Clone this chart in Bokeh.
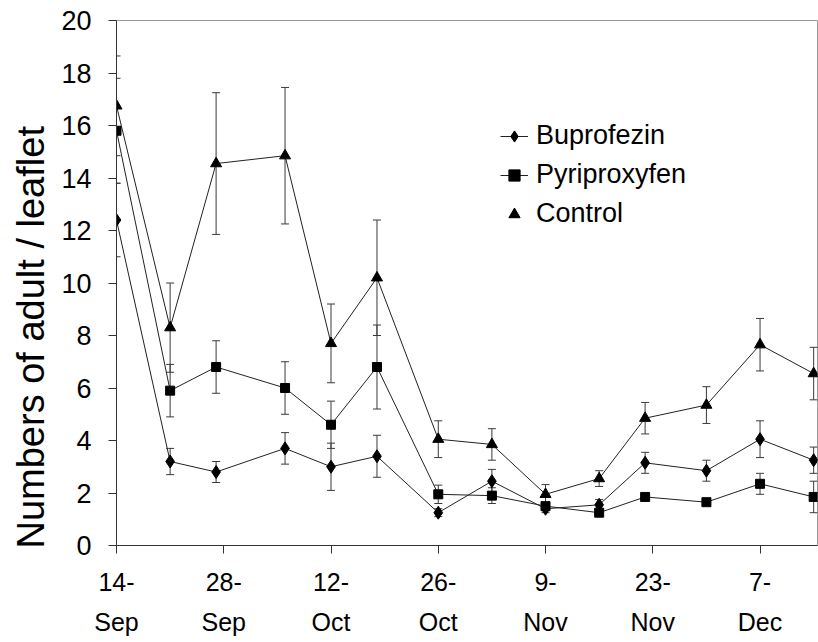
import numpy as np
import pandas as pd
from bokeh.plotting import figure
from bokeh.models import (ColumnDataSource, Whisker, TeeHead, Range1d, FixedTicker,
                          Legend, LegendItem, Title)
from bokeh.embed import file_html
from bokeh.resources import INLINE

# ---- data ----
dates = ["14-Sep", "21-Sep", "27-Sep", "6-Oct", "12-Oct", "18-Oct", "26-Oct",
         "2-Nov", "9-Nov", "16-Nov", "22-Nov", "30-Nov", "7-Dec", "14-Dec"]
buprofezin = [12.4, 3.2, 2.8, 3.7, 3.0, 3.4, 1.25, 2.45, 1.4, 1.55, 3.15, 2.85, 4.05, 3.25]
buprofezin_err = [1.4, 0.5, 0.4, 0.6, 0.9, 0.8, 0.15, 0.45, 0.15, 0.2, 0.4, 0.4, 0.7, 0.5]
pyriproxyfen = [15.8, 5.9, 6.8, 6.0, 4.6, 6.8, 1.95, 1.9, 1.5, 1.25, 1.85, 1.65, 2.35, 1.85]
pyriproxyfen_err = [2.0, 1.0, 1.0, 1.0, 0.9, 1.6, 0.35, 0.3, 0.15, 0.12, 0.12, 0.1, 0.4, 0.6]
control = [16.75, 8.3, 14.55, 14.85, 7.7, 10.2, 4.05, 3.85, 1.95, 2.55, 4.85, 5.35, 7.65, 6.55]
control_err = [1.9, 1.7, 2.7, 2.6, 1.5, 2.2, 0.7, 0.6, 0.37, 0.3, 0.6, 0.7, 1.0, 1.0]
tick_dates = ["14-Sep", "28-Sep", "12-Oct", "26-Oct", "9-Nov", "23-Nov", "7-Dec"]
y_ticks = [0, 2, 4, 6, 8, 10, 12, 14, 16, 18, 20]
y_title = "Numbers of adult / leaflet"

d0 = pd.to_datetime("14-Sep-2000", format="%d-%b-%Y")

def to_day(lst):
    d = pd.to_datetime([s + "-2000" for s in lst], format="%d-%b-%Y")
    return [(v - d0).days for v in d]

x = to_day(dates)
tx = to_day(tick_dates)

FONT = "Liberation Sans"

p = figure(width=818, height=642, output_backend="svg", toolbar_location=None,
           x_range=Range1d(0, 91.5), y_range=Range1d(0, 20),
           min_border_left=116, min_border_right=1, min_border_top=20,
           min_border_bottom=97)
p.background_fill_color = "white"
p.border_fill_color = "white"
p.outline_line_color = "#9a9a9a"
p.outline_line_width = 1
p.xgrid.visible = False
p.ygrid.visible = False

def add_series(vals, errs, marker, size):
    src = ColumnDataSource(dict(x=x, y=vals,
                                upper=[v + e for v, e in zip(vals, errs)],
                                lower=[v - e for v, e in zip(vals, errs)]))
    w = Whisker(base="x", upper="upper", lower="lower", source=src,
                line_color="#3a3a3a", line_width=1,
                upper_head=TeeHead(size=8, line_color="#3a3a3a", line_width=1),
                lower_head=TeeHead(size=8, line_color="#3a3a3a", line_width=1))
    p.add_layout(w)
    ln = p.line("x", "y", source=src, line_color="#222222", line_width=1)
    sc = p.scatter("x", "y", source=src, marker=marker, size=size,
                   fill_color="black", line_color="black")
    return ln, sc

bl, bs = add_series(buprofezin, buprofezin_err, "diamond", 13)
pl, ps = add_series(pyriproxyfen, pyriproxyfen_err, "square", 9)
cl, cs = add_series(control, control_err, "triangle", 11)

dummy = p.line(x=[], y=[], line_color="#aaaaaa", line_width=1, line_dash="1 2")

legend = Legend(items=[LegendItem(label="Buprofezin", renderers=[bl, bs]),
                       LegendItem(label="Pyriproxyfen", renderers=[pl, ps]),
                       LegendItem(label="Control", renderers=[dummy, cs])],
                location=(384, 316), orientation="vertical",
                label_text_font=FONT, label_text_font_size="27px",
                label_text_color="black",
                glyph_width=28, glyph_height=30, label_height=30,
                spacing=8, padding=0, margin=0, label_standoff=8,
                border_line_color=None, background_fill_alpha=0)
p.add_layout(legend)

# axes
p.xaxis.ticker = FixedTicker(ticks=tx)
p.xaxis.major_label_overrides = {t: s.split("-")[0] + "-\n" + s.split("-")[1]
                                 for t, s in zip(tx, tick_dates)}
p.yaxis.ticker = FixedTicker(ticks=y_ticks)
for ax in (p.xaxis, p.yaxis):
    ax.axis_line_color = "#333333"
    ax.major_tick_line_color = "#333333"
    ax.major_tick_out = 8
    ax.major_tick_in = 0
    ax.minor_tick_out = 0
    ax.minor_tick_in = 0
    ax.major_label_text_font = FONT
    ax.major_label_text_color = "black"
p.xaxis.major_label_text_font_size = "25px"
p.yaxis.major_label_text_font_size = "27px"
p.xaxis.major_label_standoff = 14
p.xaxis.major_label_text_line_height = 1.45
p.yaxis.major_label_standoff = 17

title = Title(text=y_title, align="left", offset=-3, standoff=13,
              text_font=FONT, text_font_size="38px", text_font_style="normal",
              text_color="black")
p.add_layout(title, "left")

open("out.html", "w").write(file_html(p, INLINE))
